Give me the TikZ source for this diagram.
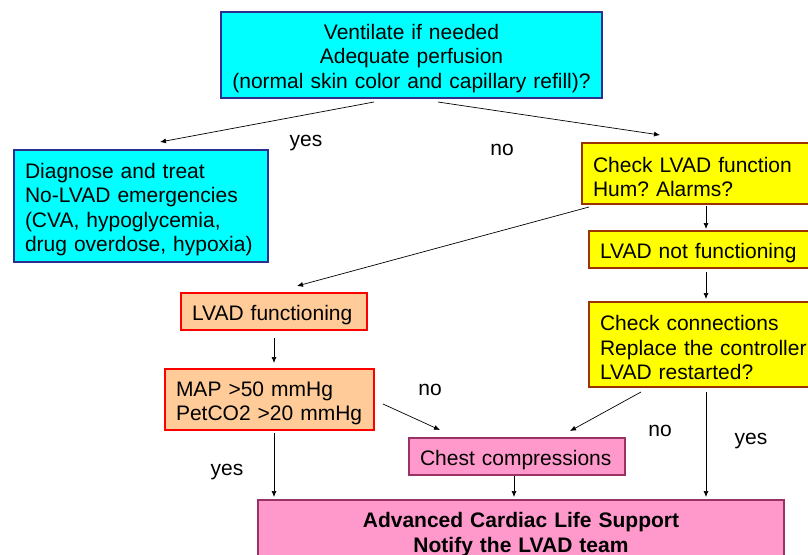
\documentclass[tikz,border=0pt]{standalone}
\usepackage{fontspec}
\setmainfont{Liberation Sans}
\usepackage{xcolor}
\usetikzlibrary{arrows.meta}
\definecolor{boxcyan}{HTML}{00FFFF}
\definecolor{linenavy}{HTML}{2E2E8F}
\definecolor{boxyellow}{HTML}{FFFF00}
\definecolor{linebrown}{HTML}{993300}
\definecolor{boxpeach}{HTML}{FFCC99}
\definecolor{boxpink}{HTML}{FF99CC}
\definecolor{linemagenta}{HTML}{993366}
\frenchspacing

\begin{document}
\begin{tikzpicture}[
  x=1pt, y=-1pt,
  >={Latex[length=6pt,width=5pt]},
  every node/.style={font=\fontsize{21}{24.5}\selectfont},
  box/.style={draw, line width=2pt, rectangle, inner xsep=11pt, inner ysep=2pt,
    execute at begin node={\rule{0pt}{22pt}}},
  cyanbox/.style={box, fill=boxcyan, draw=linenavy},
  yellowbox/.style={box, fill=boxyellow, draw=linebrown, align=left},
  peachbox/.style={box, fill=boxpeach, draw=red, align=left},
  pinkbox/.style={box, fill=boxpink, draw=linemagenta},
  link/.style={->, line width=0.7pt},
  answer/.style={inner sep=0pt}
]
\useasboundingbox (0,0) rectangle (808,554);
\clip (0,0) rectangle (808,554);

% boxes
\node[cyanbox, align=center, text width=359pt, minimum height=86pt] (top) at (411.5,55)
  {Ventilate if needed\\Adequate perfusion\\(normal skin color and capillary refill)?};
\node[cyanbox, align=left, text width=232pt, minimum height=112pt] (diag) at (141,206)
  {Diagnose and treat\\No-LVAD emergencies\\(CVA, hypoglycemia,\\drug overdose, hypoxia)};
\node[yellowbox, text width=226pt, minimum height=61pt] (check) at (706,173.5)
  {Check LVAD function\\Hum? Alarms?};
\node[yellowbox, text width=212pt, minimum height=37pt] (notf) at (706,249.5)
  {LVAD not functioning};
\node[yellowbox, text width=212pt, minimum height=85pt] (conn) at (706,344.5)
  {Check connections\\Replace the controller\\LVAD restarted?};
\node[peachbox, text width=164pt, minimum height=37pt] (lvf) at (274,311.5)
  {LVAD functioning};
\node[peachbox, text width=187pt, minimum height=61pt] (map) at (269.5,399.5)
  {MAP >50 mmHg\\PetCO2 >20 mmHg};
\node[pinkbox, align=left, text width=194pt, minimum height=37pt] (chest) at (517,456.5)
  {Chest compressions};
\node[pinkbox, align=center, text width=504pt, minimum height=62pt, font=\fontsize{21}{24.5}\selectfont\bfseries] (acls) at (521,531)
  {Advanced Cardiac Life Support\\Notify the LVAD team};

% connectors
\draw[link] ([xshift=-37.5pt,yshift=-3pt]top.south) -- ([xshift=19pt,yshift=7pt]diag.north);
\draw[link] ([xshift=26.5pt,yshift=-3pt]top.south) -- ([xshift=-46pt,yshift=7pt]check.north);
\draw[link] ([xshift=8pt,yshift=-2pt]check.south west) -- ([xshift=23pt,yshift=6pt]lvf.north);
\draw[link] ([yshift=-1pt]check.south) -- ([yshift=1pt]notf.north);
\draw[link] ([yshift=-3pt]notf.south) -- ([yshift=2pt]conn.north);
\draw[link] ([yshift=-7pt]lvf.south) -- ([yshift=5pt]lvf.south |- map.north);
\draw[link] ([xshift=8pt,yshift=-4.5pt]map.east) -- ([xshift=-77pt,yshift=7pt]chest.north);
\draw[link] ([xshift=-65pt,yshift=-4pt]conn.south) -- ([xshift=53pt,yshift=6pt]chest.north);
\draw[link] ([yshift=-4pt]conn.south) -- ([yshift=2pt]conn.south |- acls.north);
\draw[link] ([xshift=4.5pt,yshift=-2pt]map.south) -- ([xshift=4.5pt,yshift=2pt]map.south |- acls.north);
\draw[link] ([xshift=-3pt]chest.south) -- ([xshift=-3pt,yshift=2pt]chest.south |- acls.north);

% answers
\node[answer] (yes1) at (306,143) {yes};
\node[answer] (no1) at (502,150) {no};
\node[answer] (no2) at (430,390) {no};
\node[answer] (no3) at (660,431) {no};
\node[answer] (yes2) at (751,441) {yes};
\node[answer] (yes3) at (227,472) {yes};
\end{tikzpicture}
\end{document}
